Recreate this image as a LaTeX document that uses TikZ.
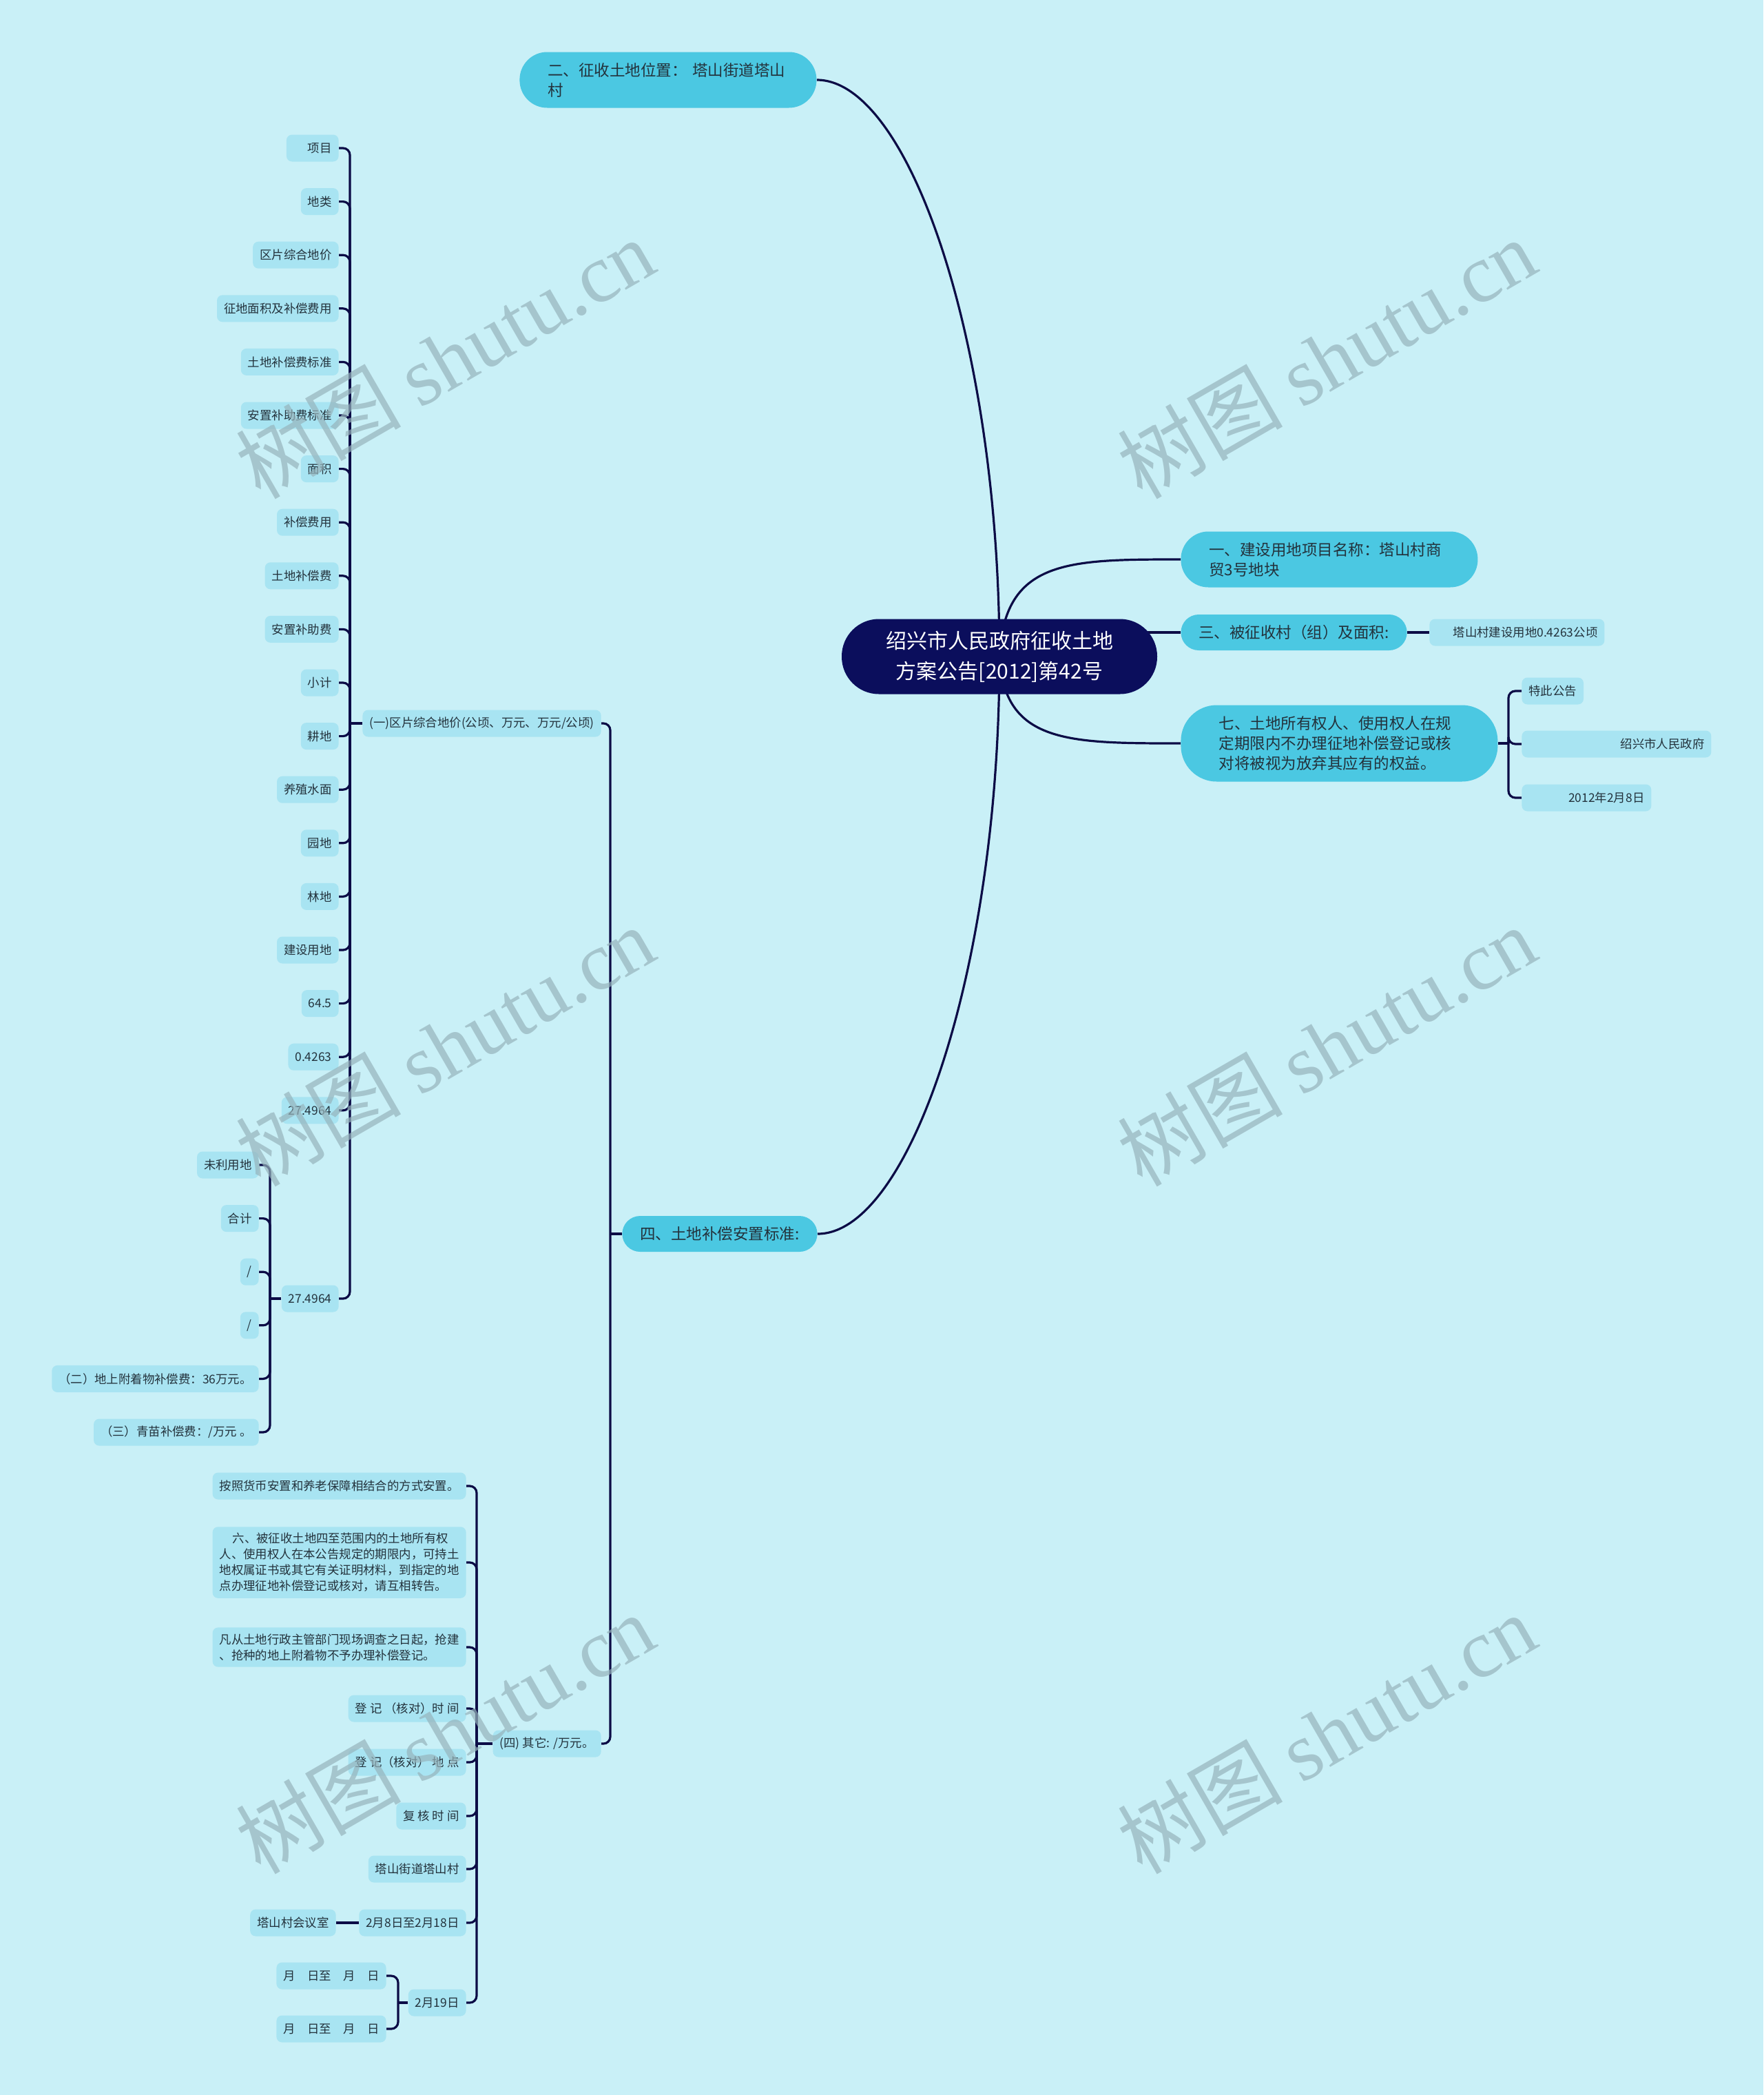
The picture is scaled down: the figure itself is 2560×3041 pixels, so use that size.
\documentclass[tikz,border=0pt]{standalone}
\usepackage{fontspec}
\newfontfamily\cjk{Noto Sans CJK SC}
\newfontfamily\wmserif{Liberation Serif}
\definecolor{bgc}{RGB}{201,240,247}
\definecolor{leafc}{RGB}{168,228,242}
\definecolor{mainc}{RGB}{75,200,226}
\definecolor{centc}{RGB}{11,14,92}
\definecolor{linec}{RGB}{12,12,70}
\definecolor{txtc}{RGB}{35,50,60}
\definecolor{wmc}{RGB}{150,180,188}
\pgfdeclarelayer{back}
\pgfdeclarelayer{lines}
\pgfsetlayers{back,lines,main}
\tikzset{
  leaf/.style={fill=leafc, rounded corners=4pt, inner xsep=5pt, inner ysep=4.5pt,
    minimum height=19.5pt, text=txtc, font=\cjk\fontsize{8.7pt}{11.5pt}\selectfont},
  mainsl/.style={fill=mainc, rounded corners=13pt, inner xsep=13pt, inner ysep=0pt,
    minimum height=26pt, text=txtc, font=\cjk\fontsize{11.25pt}{14.5pt}\selectfont},
  mainml/.style={fill=mainc, rounded corners=20pt, inner xsep=20.5pt, inner ysep=0pt,
    minimum height=40.5pt, text width=174.5pt, align=left, text=txtc,
    font=\cjk\fontsize{11.25pt}{14.5pt}\selectfont},
  centralnode/.style={fill=centc, rounded corners=27pt, minimum width=229pt,
    minimum height=54.5pt, text=white, align=center,
    font=\cjk\fontsize{15pt}{22pt}\selectfont},
  conn/.style={draw=linec, line width=1.6pt},
  brk/.style={conn, rounded corners=5pt},
  wm/.style={text=wmc, opacity=0.7, rotate=30, inner sep=0pt,
    font=\fontsize{60pt}{60pt}\selectfont}
}
\begin{document}
\begin{tikzpicture}[x=0.5pt,y=-0.5pt]
\begin{pgfonlayer}{back}
\fill[bgc] (0,0) rectangle (2560,3041);
\end{pgfonlayer}
\useasboundingbox (0,0) rectangle (2560,3041);

% central and main branches
\node[centralnode] (c) at (1451,953) {绍兴市人民政府征收土地\\方案公告[2012]第42号};
\node[mainml, anchor=west] (n2) at (754,116) {二、征收土地位置： 塔山街道塔山\\村};
\node[mainml, anchor=west] (n1) at (1714,812) {一、建设用地项目名称：塔山村商\\贸3号地块};
\node[mainsl, anchor=west] (n3) at (1714,918) {三、被征收村（组）及面积:};
\node[mainml, anchor=west, inner xsep=27.75pt, minimum height=55.5pt, rounded corners=26pt] (n7) at (1714,1079)
  {七、土地所有权人、使用权人在规\\定期限内不办理征地补偿登记或核\\对将被视为放弃其应有的权益。};
\node[mainsl, anchor=east] (n4) at (1187,1791) {四、土地补偿安置标准:};

% right leaves
\node[leaf, anchor=west, text width=117pt, align=right] (s3) at (2075,918) {塔山村建设用地0.4263公顷};
\node[leaf, anchor=west] (r1) at (2209,1003) {特此公告};
\node[leaf, anchor=west, text width=127.5pt, align=right] (r2) at (2209,1080) {绍兴市人民政府};
\node[leaf, anchor=west, text width=84pt, align=right] (r3) at (2209,1158) {2012年2月8日};
\coordinate (j7) at (2190,1079);

% left second level
\node[leaf, anchor=east] (q1) at (873,1050) {(一)区片综合地价(公顷、万元、万元/公顷)};
\node[leaf, anchor=east] (q4) at (873,2531) {(四) 其它: /万元。};
\coordinate (j4) at (886,1791);

% children of (一)
\foreach \t [count=\i from 0] in {\hspace*{1.2em}项目,地类,区片综合地价,征地面积及补偿费用,土地补偿费标准,安置补助费标准,面积,补偿费用,土地补偿费,安置补助费,小计,耕地,养殖水面,园地,林地,建设用地,64.5,0.4263,27.4964}
  \node[leaf, anchor=east] (a\i) at (492,{215+77.6*\i}) {\t};
\node[leaf, anchor=east] (t2) at (492,1885) {27.4964};
\coordinate (j1) at (508,1050);

% children of second 27.4964
\foreach \t [count=\i from 0] in {未利用地,合计,/,/,（二）地上附着物补偿费：36万元。,（三）青苗补偿费：/万元 。}
  \node[leaf, anchor=east] (u\i) at (376,{1691+77.6*\i}) {\t};
\coordinate (jt) at (392,1885);

% children of (四)
\node[leaf, anchor=east] (b1) at (677,2157) {按照货币安置和养老保障相结合的方式安置。};
\node[leaf, anchor=east, align=left] (b2) at (677,2268) {\hspace*{1.1em}六、被征收土地四至范围内的土地所有权\\人、使用权人在本公告规定的期限内，可持土\\地权属证书或其它有关证明材料，到指定的地\\点办理征地补偿登记或核对，请互相转告。};
\node[leaf, anchor=east, align=left] (b3) at (677,2391) {凡从土地行政主管部门现场调查之日起，抢建\\、抢种的地上附着物不予办理补偿登记。};
\node[leaf, anchor=east] (b4) at (677,2480) {登 记 （核对）时 间};
\node[leaf, anchor=east] (b5) at (677,2558) {登 记（核对） 地 点};
\node[leaf, anchor=east] (b6) at (677,2636) {复 核 时 间};
\node[leaf, anchor=east] (b7) at (677,2713) {塔山街道塔山村};
\node[leaf, anchor=east] (b8) at (677,2791) {2月8日至2月18日};
\node[leaf, anchor=east] (b9) at (677,2907) {2月19日};
\node[leaf, anchor=east] (b10) at (488,2791) {塔山村会议室};
\node[leaf, anchor=east] (b11) at (561,2868) {月　日至　月　日};
\node[leaf, anchor=east] (b12) at (561,2945) {月　日至　月　日};
\coordinate (jq4) at (692,2531);
\coordinate (j19) at (578,2907);

% connectors
\begin{pgfonlayer}{lines}
\draw[conn] (n2.east) .. controls (1320,116) and (1451,500) .. (c.center);
\draw[conn] (n4.east) .. controls (1320,1791) and (1451,1407) .. (c.center);
\draw[conn] (c.center) .. controls (1458,812) and (1550,812) .. (n1.west);
\draw[conn] (c.center) .. controls (1458,1079) and (1550,1079) .. (n7.west);
\draw[conn] (c.center |- n3.west) -- (n3.west);
\draw[conn] (n3.east) -- (s3.west);
\draw[conn] (n7.east) -- (j7);
\foreach \r in {r1,r2,r3} \draw[brk] (j7) |- (\r.west);
\draw[conn] (n4.west) -- (j4);
\draw[brk] (j4) |- (q1.east);
\draw[brk] (j4) |- (q4.east);
\draw[conn] (q1.west) -- (j1);
\foreach \i in {0,...,18} \draw[brk] (j1) |- (a\i.east);
\draw[brk] (j1) |- (t2.east);
\draw[conn] (t2.west) -- (jt);
\foreach \i in {0,...,5} \draw[brk] (jt) |- (u\i.east);
\draw[conn] (q4.west) -- (jq4);
\foreach \b in {b1,b2,b3,b4,b5,b6,b7,b8,b9} \draw[brk] (jq4) |- (\b.east);
\draw[conn] (b8.west) -- (b10.east);
\draw[conn] (b9.west) -- (j19);
\draw[brk] (j19) |- (b11.east);
\draw[brk] (j19) |- (b12.east);
\end{pgfonlayer}

% watermarks
\foreach \p [count=\k] in {(646,520),(1926,520),(646,1518),(1926,1518),(646,2516),(1926,2516)}
  \node[wm] (w\k) at \p {{\cjk 树图}\hspace{0.22em}{\wmserif shutu.cn}};
\end{tikzpicture}
\end{document}
